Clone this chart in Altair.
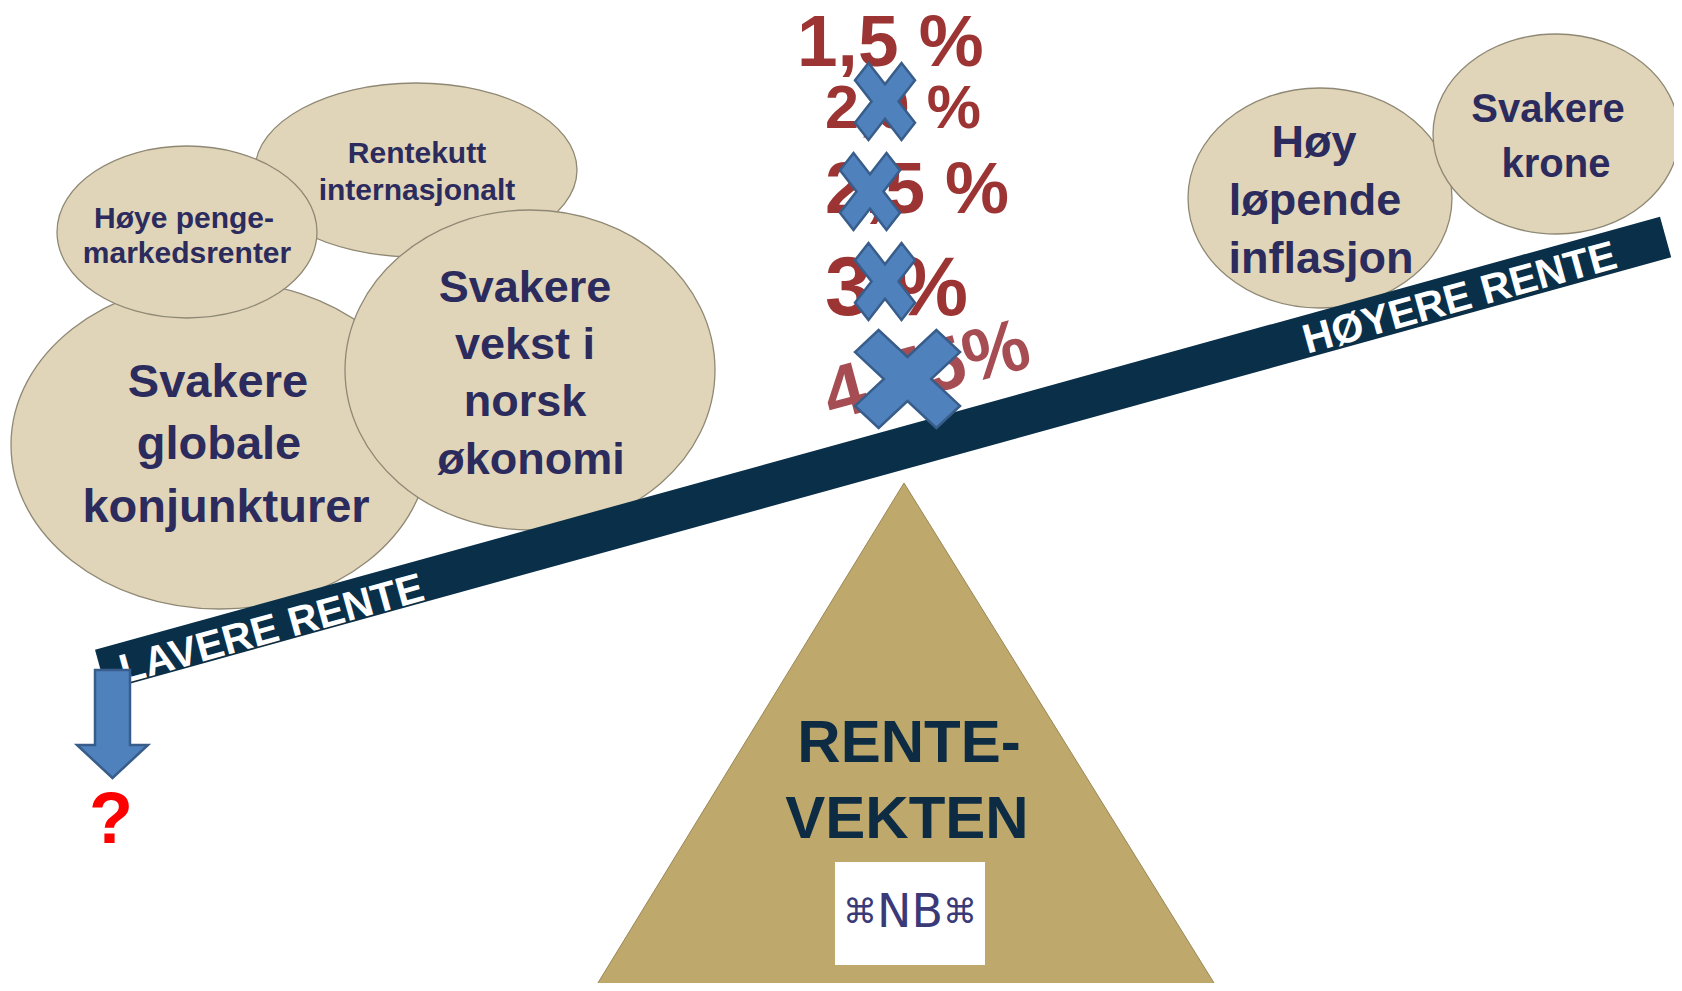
import altair as alt
import pandas as pd

# ---------------- data ----------------
# factor bubbles (drawn in this order: back -> front)
bubble_names = ["Rentekutt internasjonalt", "Svakere globale konjunkturer",
                "Høye pengemarkedsrenter", "Svakere vekst i norsk økonomi",
                "Høy løpende inflasjon", "Svakere krone"]
bubble_cx = [416, 220, 187, 530, 1320, 1556]
bubble_cy = [170, 445, 232, 370, 198, 134]
bubble_rx = [161, 209, 130, 185, 132, 123]
bubble_ry = [87, 164, 86, 160, 110, 100]

# text lines inside the bubbles
line_text = ["Rentekutt", "internasjonalt",
             "Svakere", "globale", "konjunkturer",
             "Høye penge-", "markedsrenter",
             "Svakere", "vekst i", "norsk", "økonomi",
             "Høy", "løpende", "inflasjon",
             "Svakere", "krone"]
line_x = [417, 417, 218, 219, 226, 184, 187, 525, 525, 525, 531, 1314, 1315, 1321, 1548, 1556]
line_y = [163, 200, 397, 459, 522, 228, 263, 302, 359, 416, 474, 157, 215, 273, 122, 177]
line_fs = [30, 30, 47, 47, 47, 30, 30, 45, 45, 45, 45, 45, 45, 45, 40, 40]

# beam (lever) end points and labels
beam_x = [100.6, 1665.6]
beam_y = [670.0, 237.0]
beam_labels = ["LAVERE RENTE", "HØYERE RENTE"]
beam_label_x = [272, 1460]
beam_label_y = [630, 299]

# fulcrum
tri_x = [593, 904, 1219]
tri_top = [991, 483, 991]
tri_base = [991, 991, 991]
tri_text = ["RENTE-", "VEKTEN"]
tri_text_x = [909, 907]
tri_text_y = [762, 838]

# logo
logo_box = dict(x=835, x2=985, y=862, y2=965)
logo_parts = ["⌘", "NB", "⌘"]
logo_x = [860, 910, 960]
logo_y = [913, 913, 913]
logo_fs = [34, 46, 34]

# interest rate levels
rate_labels = ["1,5 %", "2,0 %", "2,5 %", "3 %"]
rate_x = [797, 825, 825, 825]
rate_y = [66, 128, 213, 315]
rate_fs = [73, 61, 72, 83]
old_rate = ["4,75%"]
old_rate_x = [927]
old_rate_y = [372]

# crosses
cross_cx = [885, 870, 885, 907.5]
cross_cy = [101.5, 191.5, 281.5, 379]
cross_w = [60, 60, 60, 105]
cross_h = [77, 77, 77, 98]

# arrow + question mark
arrow_cx = [112.5]
arrow_cy = [724]
arrow_w = [71]
arrow_h = [108]
q_text = ["?"]
q_x = [111]
q_y = [843]

# ---------------- helpers ----------------
FONT = "Liberation Sans, Arial, sans-serif"
XS = alt.Scale(domain=[8, 1674], nice=False, zero=False)
YS = alt.Scale(domain=[8, 983], nice=False, zero=False, reverse=True)


def X(f="x"):
    return alt.X(f"{f}:Q", scale=XS, axis=None)


def Y(f="y"):
    return alt.Y(f"{f}:Q", scale=YS, axis=None)


def ellipse_path(rx, ry):
    k = ry / rx
    return f"M-1,0A1,{k:.4f} 0 1,1 1,0A1,{k:.4f} 0 1,1 -1,0Z"


def cross_path(w, h, k=0.45):
    a = h / w
    pts = [(-1, -a + k * a), (-1 + k, -a), (0, -k * a), (1 - k, -a), (1, -a + k * a), (k, 0),
           (1, a - k * a), (1 - k, a), (0, k * a), (-1 + k, a), (-1, a - k * a), (-k, 0)]
    return "M" + "L".join(f"{px:.4f},{py:.4f}" for px, py in pts) + "Z"


def arrow_path(w, h, shaft=35, head_start=745, top=670):
    r = w / 2
    a = h / w
    sw = (shaft / 2) / r
    cy = top + h / 2
    hs = (head_start - cy) / r
    return (f"M{-sw:.4f},{-a:.4f}L{sw:.4f},{-a:.4f}L{sw:.4f},{hs:.4f}L1,{hs:.4f}"
            f"L0,{a:.4f}L-1,{hs:.4f}L{-sw:.4f},{hs:.4f}Z")


# ---------------- layers ----------------
bubbles = pd.DataFrame({
    "name": bubble_names, "x": bubble_cx, "y": bubble_cy,
    "path": [ellipse_path(a, b) for a, b in zip(bubble_rx, bubble_ry)],
    "size": [(2 * a) ** 2 for a in bubble_rx],
})
bubble_layer = alt.Chart(bubbles).mark_point(
    filled=True, fill="#e0d5b9", stroke="#8f8874", strokeWidth=1.3,
    opacity=1, fillOpacity=1, strokeOpacity=1
).encode(x=X(), y=Y(), shape=alt.Shape("path:N", scale=None),
         size=alt.Size("size:Q", scale=None))

lines = pd.DataFrame({"t": line_text, "x": line_x, "y": line_y, "fs": line_fs})
line_layer = alt.Chart(lines).mark_text(
    font=FONT, fontWeight="bold", color="#2c2b5d", align="center", baseline="alphabetic"
).encode(x=X(), y=Y(), text="t:N", size=alt.Size("fs:Q", scale=None))

beam = pd.DataFrame({"x": [beam_x[0]], "y": [beam_y[0]], "x2": [beam_x[1]], "y2": [beam_y[1]]})
beam_layer = alt.Chart(beam).mark_rule(color="#0a2f48", strokeWidth=42, strokeCap="butt").encode(
    x=X(), y=Y(), x2="x2:Q", y2="y2:Q")

bl = pd.DataFrame({"t": beam_labels, "x": beam_label_x, "y": beam_label_y})
beam_text_layer = alt.Chart(bl).mark_text(
    font=FONT, fontWeight="bold", color="white", fontSize=41, angle=344.5,
    align="center", baseline="middle"
).encode(x=X(), y=Y(), text="t:N")

tri = pd.DataFrame({"x": tri_x, "y": tri_top, "y2": tri_base})
tri_layer = alt.Chart(tri).mark_area(
    color="#bea86c", stroke="#9a8754", strokeWidth=1, opacity=1
).encode(x=X(), y=Y(), y2="y2:Q")

tt = pd.DataFrame({"t": tri_text, "x": tri_text_x, "y": tri_text_y})
tri_text_layer = alt.Chart(tt).mark_text(
    font=FONT, fontWeight="bold", color="#0d2c44", fontSize=60, align="center",
    baseline="alphabetic"
).encode(x=X(), y=Y(), text="t:N")

logo_rect = alt.Chart(pd.DataFrame([logo_box])).mark_rect(color="white").encode(
    x=X(), x2="x2:Q", y=Y(), y2="y2:Q")
lg = pd.DataFrame({"t": logo_parts, "x": logo_x, "y": logo_y, "fs": logo_fs})
logo_text = alt.Chart(lg).mark_text(
    font="DejaVu Sans, Liberation Sans, sans-serif", color="#3b3a78", align="center",
    baseline="middle"
).encode(x=X(), y=Y(), text="t:N", size=alt.Size("fs:Q", scale=None))

rates = pd.DataFrame({"t": rate_labels, "x": rate_x, "y": rate_y, "fs": rate_fs})
rate_layer = alt.Chart(rates).mark_text(
    font=FONT, fontWeight="bold", color="#9c3434", align="left", baseline="alphabetic"
).encode(x=X(), y=Y(), text="t:N", size=alt.Size("fs:Q", scale=None))

old = pd.DataFrame({"t": old_rate, "x": old_rate_x, "y": old_rate_y})
old_layer = alt.Chart(old).mark_text(
    font=FONT, fontWeight="bold", color="#9c3a40", opacity=0.9, fontSize=74, angle=345,
    align="center", baseline="middle"
).encode(x=X(), y=Y(), text="t:N")

crosses = pd.DataFrame({
    "x": cross_cx, "y": cross_cy,
    "path": [cross_path(w, h) for w, h in zip(cross_w, cross_h)],
    "size": [w ** 2 for w in cross_w],
})
cross_layer = alt.Chart(crosses).mark_point(
    filled=True, fill="#4f81bd", stroke="#385d8a", strokeWidth=2.5,
    opacity=1, fillOpacity=1, strokeOpacity=1
).encode(x=X(), y=Y(), shape=alt.Shape("path:N", scale=None),
         size=alt.Size("size:Q", scale=None))

arrows = pd.DataFrame({
    "x": arrow_cx, "y": arrow_cy,
    "path": [arrow_path(w, h) for w, h in zip(arrow_w, arrow_h)],
    "size": [w ** 2 for w in arrow_w],
})
arrow_layer = alt.Chart(arrows).mark_point(
    filled=True, fill="#4f81bd", stroke="#385d8a", strokeWidth=2.5,
    opacity=1, fillOpacity=1, strokeOpacity=1
).encode(x=X(), y=Y(), shape=alt.Shape("path:N", scale=None),
         size=alt.Size("size:Q", scale=None))

q = pd.DataFrame({"t": q_text, "x": q_x, "y": q_y})
q_layer = alt.Chart(q).mark_text(
    font=FONT, fontWeight="bold", color="#ff0000", fontSize=72, align="center",
    baseline="alphabetic"
).encode(x=X(), y=Y(), text="t:N")

chart = alt.layer(
    bubble_layer, line_layer, beam_layer, beam_text_layer,
    tri_layer, tri_text_layer, logo_rect, logo_text,
    rate_layer, old_layer, cross_layer, arrow_layer, q_layer
).properties(
    width=1666, height=975, padding=0,
    autosize=alt.AutoSizeParams(type="none"), background="white"
).configure_view(stroke=None)

chart.save("out.html", embed_options={"renderer": "svg", "actions": False})
